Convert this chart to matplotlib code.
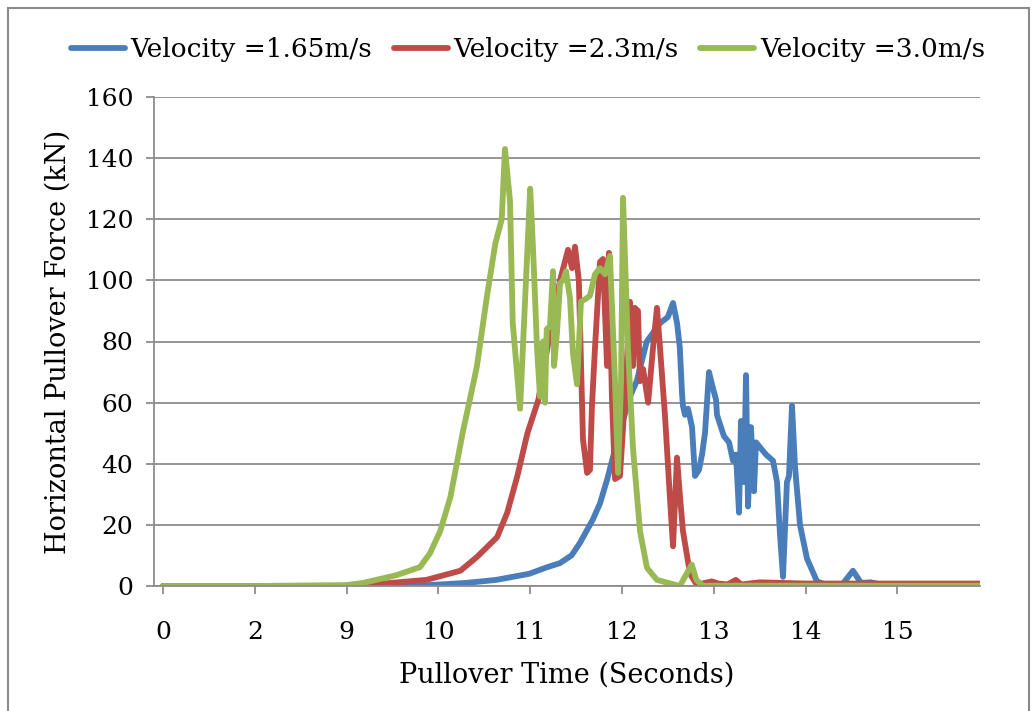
import numpy as np
import matplotlib
matplotlib.use("Agg")
import matplotlib.pyplot as plt
from matplotlib.patches import Rectangle

# ---------------- data (time in seconds, force in kN) ----------------
t_v165 = [0, 2, 9.0, 9.9, 10.3, 10.63, 10.99, 11.17, 11.325, 11.45, 11.54, 11.68, 11.76, 11.84,
          11.90, 12.01, 12.087, 12.16, 12.27, 12.414, 12.50, 12.556, 12.6, 12.63, 12.654, 12.664,
          12.686, 12.719, 12.763, 12.795, 12.839, 12.872, 12.904, 12.948, 12.98, 13.024, 13.035,
          13.078, 13.111, 13.166, 13.209, 13.242, 13.275, 13.296, 13.329, 13.351, 13.373, 13.405,
          13.438, 13.46, 13.514, 13.569, 13.645, 13.689, 13.721, 13.754, 13.797, 13.819, 13.852,
          13.885, 13.939, 14.015, 14.124, 14.233, 14.4, 14.516, 14.604, 14.712, 14.85, 15.9]
f_v165 = [0, 0, 0, 0.3, 1.0, 2.0, 4.0, 6.0, 7.5, 10.0, 14.0, 21.6, 27.0, 35.0,
          42.0, 54.0, 62.0, 67.0, 80.0, 86.0, 88.0, 92.6, 86.0, 78.0, 63.0, 59.0,
          56.0, 58.0, 52.0, 36.0, 38.0, 43.0, 50.0, 70.0, 66.0, 61.0, 56.0,
          52.0, 49.0, 47.0, 41.0, 43.0, 24.0, 54.0, 34.0, 69.0, 26.0, 52.0,
          31.0, 47.0, 45.0, 43.0, 41.0, 34.0, 17.0, 3.0, 34.0, 36.0, 59.0,
          39.0, 20.0, 9.0, 1.5, 0.3, 0.5, 5.0, 1.0, 1.2, 0.3, 0.2]

t_v23 = [0, 2, 9.0, 9.4, 9.87, 10.24, 10.42, 10.64, 10.75, 10.86, 10.97, 11.09, 11.2, 11.325,
         11.412, 11.455, 11.488, 11.53, 11.575, 11.62, 11.651, 11.673, 11.706, 11.76, 11.793,
         11.837, 11.858, 11.89, 11.924, 11.978, 12.033, 12.087, 12.12, 12.14, 12.174, 12.196,
         12.23, 12.285, 12.338, 12.381, 12.414, 12.47, 12.52, 12.556, 12.599, 12.63, 12.664,
         12.741, 12.817, 12.9, 12.98, 13.05, 13.15, 13.24, 13.3, 13.5, 14.0, 15.0, 15.9]
f_v23 = [0, 0, 0, 0.8, 2.0, 5.0, 9.5, 16.0, 24.0, 36.0, 50.0, 61.0, 80.0, 100.0,
         110.0, 104.0, 111.0, 100.0, 48.0, 37.0, 38.0, 59.0, 78.0, 106.0, 107.0,
         72.0, 109.0, 62.0, 35.0, 36.0, 62.0, 93.0, 72.0, 91.0, 90.0, 67.0,
         71.0, 60.0, 78.0, 91.0, 78.0, 55.0, 30.0, 13.0, 42.0, 30.0, 18.0,
         4.0, 0.3, 1.0, 1.5, 0.8, 0.5, 2.0, 0.5, 1.2, 0.8, 0.8, 0.8]

t_v30 = [0, 2, 9.0, 9.18, 9.55, 9.80, 9.91, 10.02, 10.13, 10.20, 10.27, 10.35, 10.42, 10.53,
         10.62, 10.69, 10.725, 10.78, 10.81, 10.89, 11.0, 11.03, 11.052, 11.074, 11.107, 11.14,
         11.161, 11.18, 11.216, 11.248, 11.26, 11.292, 11.325, 11.357, 11.39, 11.434, 11.466,
         11.51, 11.553, 11.608, 11.651, 11.706, 11.76, 11.815, 11.869, 11.924, 11.957, 11.99,
         12.011, 12.065, 12.12, 12.196, 12.272, 12.38, 12.63, 12.76, 12.81, 12.88, 13.5, 15.9]
f_v30 = [0, 0, 0.3, 1.0, 3.6, 6.2, 10.8, 18.0, 29.0, 40.0, 51.0, 62.0, 72.0, 95.0,
         112.0, 120.0, 143.0, 126.0, 86.0, 58.0, 130.0, 111.0, 95.0, 78.0, 62.0, 80.0,
         60.0, 84.0, 85.0, 103.0, 72.0, 83.0, 99.0, 100.0, 103.0, 94.0, 76.0,
         66.0, 93.0, 94.0, 95.0, 102.0, 104.0, 102.0, 108.0, 67.0, 37.0, 67.0,
         127.0, 78.0, 45.0, 18.0, 6.0, 2.0, 0.0, 7.0, 2.0, 0.1, 0.1, 0.1]

tick_labels = ["0", "2", "9", "10", "11", "12", "13", "14", "15"]
tick_times = [0, 2, 9, 10, 11, 12, 13, 14, 15]
y_ticks = [0, 20, 40, 60, 80, 100, 120, 140, 160]
legend_labels = ["Velocity =1.65m/s", "Velocity =2.3m/s", "Velocity =3.0m/s"]
colors = ["#4A7EBB", "#BE4B48", "#98B954"]

# piecewise linear axis: labels 0, 2, 9, 10, ... are evenly spaced
def to_pos(t):
    return np.interp(t, [0, 2, 9, 20], [0, 1, 2, 13])

plt.rcParams['font.family'] = ['DejaVu Serif']
fig = plt.figure(figsize=(10.33, 7.11), dpi=100)
ax = fig.add_axes([154 / 1033, 1 - 586 / 711, (980 - 154) / 1033, (586 - 97) / 711])

series = [(t_v165, f_v165), (t_v23, f_v23), (t_v30, f_v30)]
for (tt, ff), c, lab in zip(series, colors, legend_labels):
    ax.plot(to_pos(np.array(tt)), ff, color=c, lw=4.2, label=lab,
            solid_joinstyle='round', solid_capstyle='round')

ax.set_xlim(-0.098, 8.9)
ax.set_ylim(0, 160)
ax.set_yticks(y_ticks)
ax.set_xticks(to_pos(np.array(tick_times)))
ax.set_xticklabels(tick_labels)
ax.yaxis.grid(True, color="#8C8C8C", lw=1.3)
ax.set_axisbelow(True)
for s in ["top", "right"]:
    ax.spines[s].set_visible(False)
for s in ["left", "bottom"]:
    ax.spines[s].set_color("#8C8C8C")
    ax.spines[s].set_linewidth(1.3)
ax.tick_params(axis='both', colors="#8C8C8C", labelcolor="black", labelsize=18,
               length=6, width=1.3)
ax.tick_params(axis='x', pad=19)
ax.tick_params(axis='y', pad=9)
ax.set_xlabel("Pullover Time (Seconds)", fontsize=19.5, labelpad=13)
ax.set_ylabel("Horizontal Pullover Force (kN)", fontsize=19.5, labelpad=10)

fig.legend(loc="center", bbox_to_anchor=(0.511, 1 - 50 / 711), ncol=3, frameon=False,
           fontsize=19.0, handlelength=2.05, handletextpad=0.22, columnspacing=0.8)

fig.add_artist(Rectangle((8 / 1033, -0.05), (1029 - 8) / 1033, 1.05 - 8 / 711,
                         transform=fig.transFigure, fill=False, edgecolor="#8A8A8A",
                         lw=1.5, clip_on=False))

fig.savefig("out.png", dpi=100)
